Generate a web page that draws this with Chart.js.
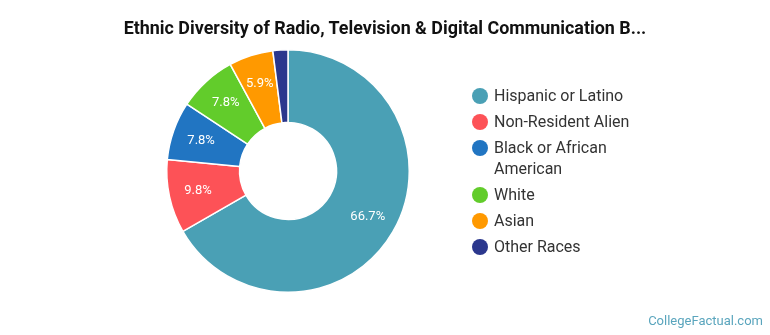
<!DOCTYPE html>
<html>
<head>
<meta charset="utf-8">
<script src="https://cdn.jsdelivr.net/npm/chart.js@4.4.0/dist/chart.umd.min.js"></script>
<style>
    html, body { margin: 0; padding: 0; background: #fff; }
    #wrap { position: relative; width: 770px; height: 335px; }
    #title {
        position: absolute; left: 0; top: 17px; width: 770px; text-align: center;
        font-family: Roboto, sans-serif; font-size: 17.9px; font-weight: bold; color: #111;
        line-height: 22px; white-space: nowrap;
    }
    #brand {
        position: absolute; right: 7px; bottom: 7px;
        font-family: Roboto, sans-serif; font-size: 13px; color: #5aa5bd;
    }
    #legend {
        position: absolute; left: 472px; top: 85px; margin: 0; padding: 0; list-style: none;
        font-family: Roboto, sans-serif; font-size: 16px; color: #333;
    }
    #legend li { position: relative; padding-left: 22px; line-height: 21px; margin-bottom: 5px; }
    #legend i {
        position: absolute; left: 0; top: 2.5px; width: 16px; height: 16px; border-radius: 50%;
    }
</style>
</head>
<body>
<div id="wrap">
    <canvas id="chart" width="770" height="335"></canvas>
    <div id="title"></div>
    <ul id="legend"></ul>
    <div id="brand">CollegeFactual.com</div>
</div>
<script>
const titleText = "Ethnic Diversity of Radio, Television & Digital Communication B...";
const categories = ["Hispanic or Latino", "Non-Resident Alien", ["Black or African", "American"], "White", "Asian", "Other Races"];
const shares = [66.7, 9.8, 7.8, 7.8, 5.9, 2.0];
const colors = ["#4aa0b5", "#fd5257", "#2175c2", "#62cc2b", "#ff9900", "#2b378d"];

// подписи процентов внутри сегментов
const sliceLabels = {
    id: "sliceLabels",
    afterDatasetsDraw(chart) {
        const ctx = chart.ctx;
        const meta = chart.getDatasetMeta(0);
        ctx.save();
        ctx.fillStyle = "#ffffff";
        ctx.font = "13px Roboto, sans-serif";
        ctx.textAlign = "center";
        ctx.textBaseline = "middle";
        meta.data.forEach((arc, i) => {
            if (shares[i] < 4) return;
            const p = arc.getProps(["startAngle", "endAngle", "innerRadius", "outerRadius", "x", "y"], true);
            const mid = (p.startAngle + p.endAngle) / 2;
            const r = p.innerRadius + (p.outerRadius - p.innerRadius) * 0.6;
            ctx.fillText(shares[i].toFixed(1) + "%", p.x + Math.cos(mid) * r, p.y + Math.sin(mid) * r);
        });
        ctx.restore();
    }
};

const chart = new Chart(document.getElementById("chart").getContext("2d"), {
    type: "doughnut",
    data: {
        labels: categories,
        datasets: [{
            data: shares,
            backgroundColor: colors,
            borderColor: "#ffffff",
            borderWidth: 1.5,
        }],
    },
    options: {
        responsive: false,
        animation: false,
        cutout: "40%",
        layout: { padding: { top: 49, bottom: 42, left: 100, right: 294 } },
        plugins: {
            legend: { display: false },
            tooltip: { enabled: false },
        },
    },
    plugins: [sliceLabels],
});

document.getElementById("title").textContent = titleText;

// легенда справа
const legend = document.getElementById("legend");
categories.forEach((label, i) => {
    const text = Array.isArray(label) ? label.join("<br>") : label;
    legend.innerHTML += `<li><i style="background:${colors[i]}"></i>${text}</li>`;
});
</script>
</body>
</html>
